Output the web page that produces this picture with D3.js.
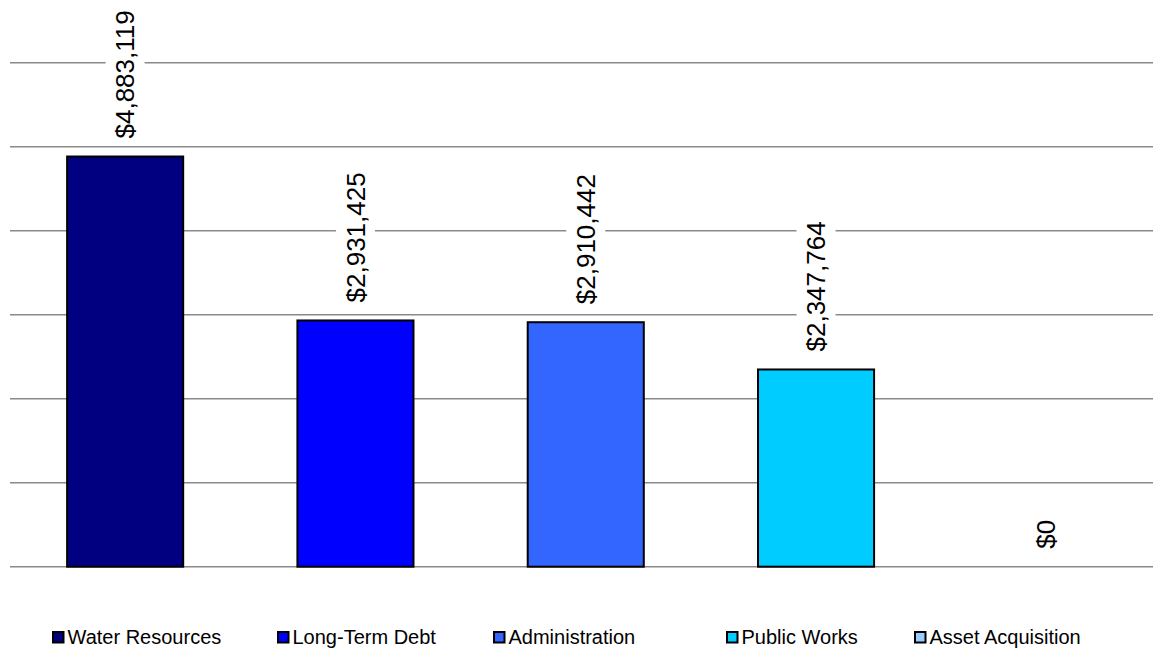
<!DOCTYPE html>
<html>
<head>
<meta charset="utf-8">
<script src="https://cdn.jsdelivr.net/npm/d3@7"></script>
<style>
  body { margin: 0; background: #fff; }
  svg { display: block; font-family: "Liberation Sans", Arial, sans-serif; }
</style>
</head>
<body>
<svg id="chart" width="1153" height="649"></svg>
<script>
// data
var categories = ['Water Resources', 'Long-Term Debt', 'Administration', 'Public Works', 'Asset Acquisition']
var amounts = [4883119, 2931425, 2910442, 2347764, 0]
var colors = ['#000080', '#0000ff', '#3366ff', '#00ccff', '#99ccff']
var gridTicks = [0, 1000000, 2000000, 3000000, 4000000, 5000000, 6000000]

var w = 1153, h = 649
var svg = d3.select('#chart')

var xs = d3.scaleBand().domain(categories).range([10, 1161.5])
    .paddingInner(0.496).paddingOuter(0.248)
var ys = d3.scaleLinear().domain([0, 6000000]).range([566.7, 62.7])

var fmt = function(v) { return '$' + d3.format(',')(v) }

// gridlines
svg.append('g').selectAll('line')
    .data(gridTicks)
    .enter()
    .append('line')
    .attr('x1', 10).attr('x2', 1161.5)
    .attr('y1', d => ys(d)).attr('y2', d => ys(d))
    .style('stroke', '#8a8a8a')
    .style('stroke-width', 1.6)

var rows = categories.map((c, i) => ({name: c, value: amounts[i], color: colors[i]}))

// bars
svg.append('g').selectAll('rect')
    .data(rows.filter(d => d.value > 0))
    .enter()
    .append('rect')
    .attr('x', d => xs(d.name))
    .attr('width', xs.bandwidth())
    .attr('y', d => ys(d.value))
    .attr('height', d => ys(0) - ys(d.value))
    .style('fill', d => d.color)
    .style('stroke', '#000')
    .style('stroke-width', 2)

// value labels, rotated, with white backing over the gridlines
var lbl = svg.append('g').selectAll('g')
    .data(rows)
    .enter()
    .append('g')
    .attr('transform', d => `translate(${xs(d.name) + xs.bandwidth() / 2}, ${ys(d.value) - 18}) rotate(-90)`)

var bg = lbl.append('rect').style('fill', '#fff')
var txt = lbl.append('text')
    .attr('x', 0).attr('y', 0)
    .attr('dy', '0.35em')
    .style('font-size', '26px')
    .style('fill', '#000')
    .text(d => fmt(d.value))

txt.each(function(d) {
    var len = this.getComputedTextLength()
    d3.select(this.parentNode).select('rect')
        .attr('x', -4).attr('width', len + 8)
        .attr('y', -19.5).attr('height', 39)
})

// legend
var legendX = [52, 277, 493, 726, 914]
var leg = svg.append('g').selectAll('g')
    .data(rows)
    .enter()
    .append('g')
    .attr('transform', (d, i) => `translate(${legendX[i]}, 637)`)

leg.append('rect')
    .attr('x', 1).attr('y', -5).attr('width', 10.5).attr('height', 10.5)
    .style('fill', d => d.color)
    .style('stroke', '#000')
    .style('stroke-width', 2)

leg.append('text')
    .attr('x', 15.5).attr('y', 0)
    .attr('dy', '0.35em')
    .style('font-size', '20px')
    .style('fill', '#000')
    .text(d => d.name)
</script>
</body>
</html>
